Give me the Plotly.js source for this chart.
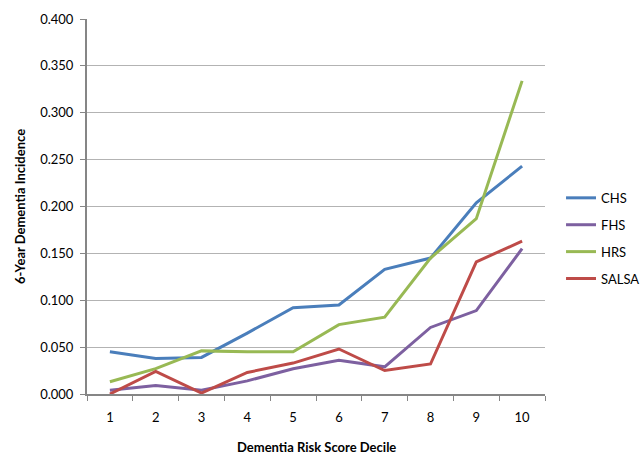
<!DOCTYPE html>
<html>
<head>
<meta charset="utf-8">
<script src="https://cdn.plot.ly/plotly-3.0.1.min.js"></script>
<style>html,body{margin:0;padding:0;background:#fff;}#chart{width:640px;height:454px;}</style>
</head>
<body>
<div id="chart"></div>
<script>
const deciles = ["1","2","3","4","5","6","7","8","9","10"];
const chs   = [0.045, 0.038, 0.039, 0.065, 0.092, 0.095, 0.133, 0.145, 0.204, 0.243];
const fhs   = [0.004, 0.009, 0.004, 0.014, 0.027, 0.036, 0.029, 0.071, 0.089, 0.155];
const hrs   = [0.013, 0.027, 0.046, 0.045, 0.045, 0.074, 0.082, 0.145, 0.187, 0.334];
const salsa = [0.000, 0.024, 0.001, 0.023, 0.033, 0.048, 0.025, 0.032, 0.141, 0.163];
const seriesNames = ["CHS", "FHS", "HRS", "SALSA"];
const seriesColors = ["#4a7ebb", "#7d60a0", "#98b954", "#be4b48"];
const seriesValues = [chs, fhs, hrs, salsa];

const font = "Lato, 'Open Sans', 'Liberation Sans', sans-serif";
const traces = seriesValues.map((v, i) => ({
  x: deciles, y: v, type: "scatter", mode: "lines", name: seriesNames[i],
  legendgroup: "g" + i,
  line: {color: seriesColors[i], width: 3}
}));

const layout = {
  width: 640, height: 454,
  margin: {l: 87, r: 95, t: 19, b: 60, autoexpand: false},
  paper_bgcolor: "#fff", plot_bgcolor: "#fff",
  font: {family: font, size: 13, color: "#000"},
  showlegend: true,
  legend: {x: 1.035, xanchor: "left", y: 0.415, yanchor: "middle", font: {size: 13}, tracegroupgap: 7, itemwidth: 30, bgcolor: "rgba(0,0,0,0)"},
  xaxis: {
    type: "category", tickson: "boundaries", ticks: "outside", ticklen: 5, tickcolor: "#868686", tickwidth: 1,
    showline: true, linecolor: "#868686", linewidth: 2, showgrid: false, zeroline: false,
    range: [-0.5, 9.5], fixedrange: true, ticklabelstandoff: 10, automargin: false
  },
  yaxis: {
    range: [0, 0.4], dtick: 0.05, tickformat: ".3f", ticks: "outside", ticklen: 5, tickcolor: "#868686", tickwidth: 1,
    showline: true, linecolor: "#868686", linewidth: 2, showgrid: true, gridcolor: "#b3b3b3", gridwidth: 1,
    zeroline: false, fixedrange: true, ticklabelstandoff: 4, automargin: false,
    title: {text: "<b>6-Year Dementia Incidence</b>", font: {size: 13}, standoff: 12}
  },
  annotations: [{
    text: "<b>Dementia Risk Score Decile</b>", xref: "paper", yref: "paper",
    x: 0.5, y: -0.141, xanchor: "center", yanchor: "middle", showarrow: false, font: {size: 13}
  }]
};
Plotly.newPlot("chart", traces, layout, {staticPlot: true, displayModeBar: false});
</script>
</body>
</html>
